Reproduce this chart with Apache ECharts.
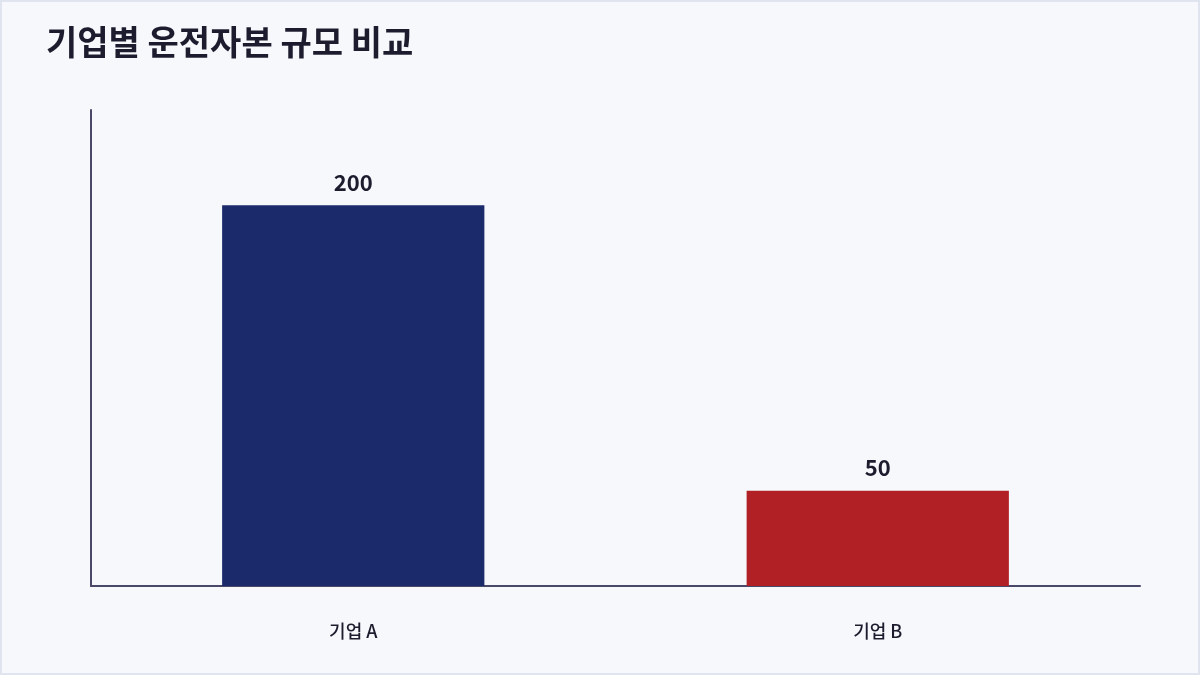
<!DOCTYPE html>
<html>
<head>
<meta charset="utf-8">
<script src="https://cdn.jsdelivr.net/npm/echarts@6/dist/echarts.min.js"></script>
<style>
  html, body { margin: 0; padding: 0; background: #f7f8fc; }
  #wrap { position: relative; width: 1200px; height: 675px; }
  #chart { position: absolute; left: 0; top: 0; width: 1200px; height: 675px; }
  #frame { position: absolute; left: 0; top: 0; width: 1200px; height: 675px;
           box-sizing: border-box; border: 2px solid #dfe4ee; pointer-events: none; }
</style>
</head>
<body>
<div id="wrap">
  <div id="chart"></div>
  <div id="frame"></div>
</div>
<script>
// 데이터
const companies = ['기업 A', '기업 B'];
const workingCapital = [200, 50];
const barColors = ['#1b2a6b', '#b02024'];

const font = '"Noto Sans CJK KR", "Noto Sans", sans-serif';

const chart = echarts.init(document.getElementById('chart'));
chart.setOption({
    backgroundColor: '#f7f8fc',
    animation: false,
    title: {
        text: '기업별 운전자본 규모 비교',
        left: 41,
        top: 20,
        textStyle: {
            fontFamily: font,
            fontSize: 34,
            fontWeight: 'bold',
            color: '#1c1c2e',
        },
    },
    grid: { left: 91, right: 60, top: 110, bottom: 89 },
    xAxis: {
        type: 'category',
        data: companies,
        axisLine: { lineStyle: { color: '#4a4868', width: 2 } },
        axisTick: { show: false },
        axisLabel: {
            margin: 36,
            fontFamily: font,
            fontSize: 18,
            fontWeight: 500,
            color: '#1c1c2e',
        },
    },
    yAxis: {
        type: 'value',
        min: 0,
        max: 250,
        axisLine: { show: true, lineStyle: { color: '#4a4868', width: 2 } },
        axisTick: { show: false },
        axisLabel: { show: false },
        splitLine: { show: false },
    },
    series: [{
        type: 'bar',
        barWidth: '50%',
        data: workingCapital.map((v, i) => ({ value: v, itemStyle: { color: barColors[i] } })),
        label: {
            show: true,
            position: 'top',
            distance: 12,
            fontFamily: font,
            fontSize: 22,
            fontWeight: 'bold',
            color: '#1c1c2e',
        },
    }],
});
</script>
</body>
</html>
